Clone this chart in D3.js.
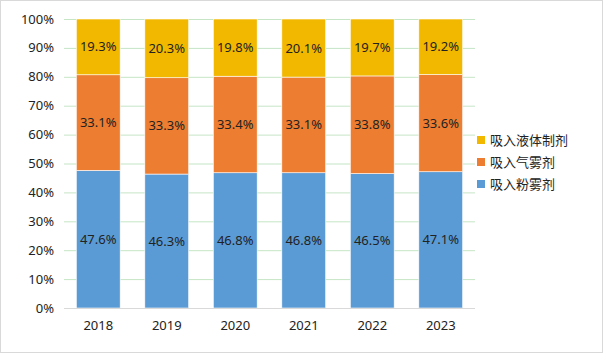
<!DOCTYPE html>
<html>
<head>
  <meta charset="utf-8" />
  <script src="https://d3js.org/d3.v7.min.js"></script>
  <style>
    body { margin: 0; background: #fff; }
    text { font-family: "Noto Sans", "Noto Sans CJK SC", sans-serif; font-size: 13px; fill: #222; }
  </style>
</head>
<body>
  <svg id="chart" width="603" height="353"></svg>
  <script>
    const years = ["2018", "2019", "2020", "2021", "2022", "2023"];
    const seriesNames = ["吸入粉雾剂", "吸入气雾剂", "吸入液体制剂"];
    const powder = [47.6, 46.3, 46.8, 46.8, 46.5, 47.1];
    const aerosol = [33.1, 33.3, 33.4, 33.1, 33.8, 33.6];
    const liquid = [19.3, 20.3, 19.8, 20.1, 19.7, 19.2];
    const yTicks = [0, 10, 20, 30, 40, 50, 60, 70, 80, 90, 100];
    const colors = ["#5b9bd5", "#ed7d31", "#f2b800"];

    const svg = d3.select("#chart");
    const margin = { top: 19, left: 64, right: 128, bottom: 45 };
    const width = 603, height = 353;

    svg.append("rect")
      .attr("x", 0.5).attr("y", 0.5)
      .attr("width", width - 1).attr("height", height - 1)
      .attr("fill", "#fff").attr("stroke", "#d9d9d9");

    const x = d3.scaleBand().domain(years)
      .range([margin.left, width - margin.right])
      .paddingInner(0.36).paddingOuter(0.18);
    const y = d3.scaleLinear().domain([0, 100]).range([height - margin.bottom, margin.top]);

    // grid
    svg.append("g").selectAll("line")
      .data(yTicks.filter(d => d > 0))
      .join("line")
      .attr("x1", margin.left).attr("x2", width - margin.right)
      .attr("y1", d => y(d) + 0.5).attr("y2", d => y(d) + 0.5)
      .attr("stroke", "#c5e5c5");

    const rows = years.map((yr, i) => {
      const vals = [powder[i], aerosol[i], liquid[i]];
      const total = d3.sum(vals);
      return { year: yr, vals: vals, total: total };
    });

    const g = svg.append("g");
    rows.forEach(r => {
      let acc = 0;
      r.vals.forEach((v, k) => {
        const y0 = acc / r.total * 100;
        acc += v;
        const y1 = acc / r.total * 100;
        g.append("rect")
          .attr("x", x(r.year)).attr("width", x.bandwidth())
          .attr("y", y(y1)).attr("height", y(y0) - y(y1))
          .attr("fill", colors[k])
          .attr("stroke", "#fff").attr("stroke-width", 0.6);
        g.append("text")
          .attr("x", x(r.year) + x.bandwidth() / 2)
          .attr("y", (y(y0) + y(y1)) / 2)
          .attr("text-anchor", "middle").attr("dy", "0.35em")
          .text(v.toFixed(1) + "%");
      });
    });

    // baseline
    svg.append("line")
      .attr("x1", margin.left).attr("x2", width - margin.right)
      .attr("y1", y(0) + 0.5).attr("y2", y(0) + 0.5)
      .attr("stroke", "#d9d9d9");

    // y labels
    svg.append("g").selectAll("text")
      .data(yTicks).join("text")
      .attr("x", 54).attr("y", d => y(d))
      .attr("dy", "0.35em").attr("text-anchor", "end")
      .text(d => d + "%");

    // x labels
    svg.append("g").selectAll("text")
      .data(years).join("text")
      .attr("x", d => x(d) + x.bandwidth() / 2)
      .attr("y", 325).attr("dy", "0.35em")
      .attr("text-anchor", "middle")
      .text(d => d);

    // legend
    const legendOrder = [2, 1, 0];
    const lg = svg.append("g");
    legendOrder.forEach((k, i) => {
      const ly = 140 + i * 22;
      lg.append("rect")
        .attr("x", 477).attr("y", ly - 4).attr("width", 8).attr("height", 8)
        .attr("fill", colors[k]);
      lg.append("text")
        .attr("x", 490).attr("y", ly).attr("dy", "0.35em")
        .text(seriesNames[k]);
    });
  </script>
</body>
</html>
